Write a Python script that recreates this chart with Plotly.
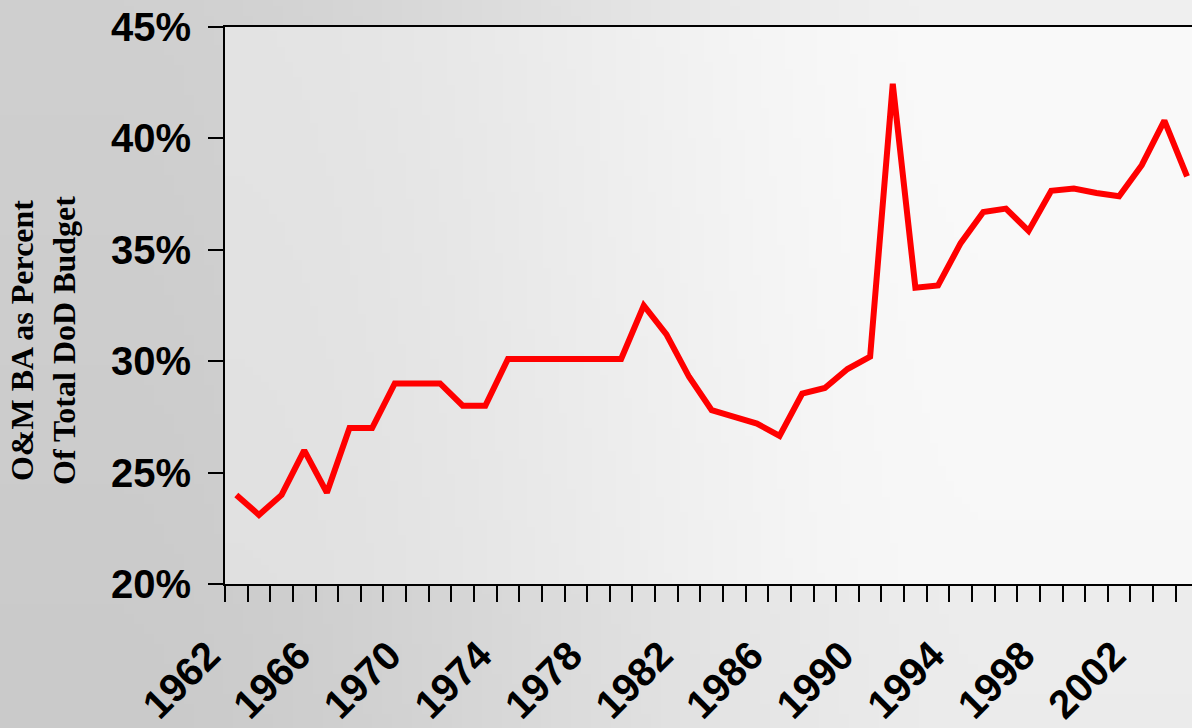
import plotly.graph_objects as go
import numpy as np
import zlib, struct, base64

# ---- data ----
years = list(range(1962, 2005))
om_share = [24.0, 23.1, 24.0, 26.0, 24.1, 27.0, 27.0, 29.0, 29.0, 29.0,
            28.0, 28.0, 30.1, 30.1, 30.1, 30.1, 30.1, 30.1, 32.5, 31.2,
            29.3, 27.8, 27.5, 27.2, 26.65, 28.55, 28.8, 29.65, 30.2, 42.45,
            33.3, 33.4, 35.3, 36.7, 36.85, 35.85, 37.65, 37.75, 37.55, 37.4,
            38.8, 40.8, 38.3]
label_years = list(range(1962, 2003, 4))
y_ticks = [20, 25, 30, 35, 40, 45]
title_lines = ["O&M BA as Percent", "Of Total DoD Budget"]

# ---- layout geometry ----
W, H = 1192, 728
ML, MT, MB, MR = 225, 27, 144, 0
PW, PH = W - ML - MR, H - MT - MB


# ---- soft gray background (decorative) ----
def make_png(w, h, arr):
    raw = b"".join(b"\x00" + bytes(row) for row in arr)

    def chunk(t, d):
        return struct.pack(">I", len(d)) + t + d + struct.pack(">I", zlib.crc32(t + d) & 0xffffffff)

    return (b"\x89PNG\r\n\x1a\n" + chunk(b"IHDR", struct.pack(">IIBBBBB", w, h, 8, 0, 0, 0, 0))
            + chunk(b"IDAT", zlib.compress(raw, 9)) + chunk(b"IEND", b""))


def gradient_src(x0, x1, y0, y1, lo, hi, start, span, ydark):
    gw, gh = 120, 73
    X = x0 + (np.arange(gw) + 0.5) * (x1 - x0) / gw
    Y = y0 + (np.arange(gh) + 0.5) * (y1 - y0) / gh
    XX, YY = np.meshgrid(X, Y)
    t = np.clip((XX - start) / span, 0, 1)
    s = t * t * (3 - 2 * t)
    v = lo + (hi - lo) * s - ydark * (YY / H) * (1 - 0.3 * s)
    img = np.clip(v, 0, 255).astype(np.uint8)
    return "data:image/png;base64," + base64.b64encode(make_png(gw, gh, img.tolist())).decode()


outer_src = gradient_src(0, W, 0, H, 208, 240, 100, 900, 6)
inner_src = gradient_src(ML, W, MT, H - MB, 228, 250, 230, 750, 4)

fig = go.Figure()
fig.add_trace(go.Scatter(
    x=years, y=om_share, mode="lines",
    line=dict(color="#ff0000", width=6),
    hoverinfo="skip", showlegend=False,
))

tick_font = dict(family="Liberation Sans, Arial, sans-serif", size=40, color="black", weight="bold")

fig.update_layout(
    width=W, height=H,
    margin=dict(l=ML, r=MR, t=MT, b=MB, pad=0),
    paper_bgcolor="#d8d8d8",
    plot_bgcolor="rgba(0,0,0,0)",
    showlegend=False,
    images=[
        dict(source=outer_src, xref="paper", yref="paper",
             x=-ML / PW, y=1 + MT / PH, sizex=W / PW, sizey=H / PH,
             xanchor="left", yanchor="top", sizing="stretch", layer="below"),
        dict(source=inner_src, xref="paper", yref="paper",
             x=0, y=1, sizex=1, sizey=1,
             xanchor="left", yanchor="top", sizing="stretch", layer="below"),
    ],
    xaxis=dict(
        range=[1961.5, 2004.22],
        tickmode="array", tickvals=label_years, ticktext=[str(y) for y in label_years],
        tickangle=-45, ticks="", tickfont=dict(tick_font, size=40),
        ticklabelstandoff=30, ticklabelshift=-28,
        showline=True, linecolor="black", linewidth=2, mirror=True,
        showgrid=False, zeroline=False,
        minor=dict(tickmode="array", tickvals=[y - 0.5 for y in years],
                   ticks="outside", ticklen=16, tickwidth=1.5, tickcolor="black", showgrid=False),
    ),
    yaxis=dict(
        range=[20, 45], tickmode="array", tickvals=y_ticks,
        ticktext=[f"{v}%" for v in y_ticks],
        ticks="outside", ticklen=15, tickwidth=1.5, tickcolor="black",
        tickfont=tick_font, ticklabelstandoff=9,
        showline=True, linecolor="black", linewidth=2,
        showgrid=False, zeroline=False,
    ),
)

fig.add_annotation(
    text="<br>".join(title_lines),
    xref="paper", yref="paper",
    x=(43 - ML) / PW, y=(584 - 341) / PH,
    xanchor="center", yanchor="middle",
    textangle=-90, showarrow=False,
    font=dict(family="Liberation Serif, Times New Roman, serif", size=32, color="black", weight="bold"),
)

fig.write_html("out.html", config={"displayModeBar": False},
               post_script="document.body.style.margin='0';document.body.style.overflow='hidden';")
